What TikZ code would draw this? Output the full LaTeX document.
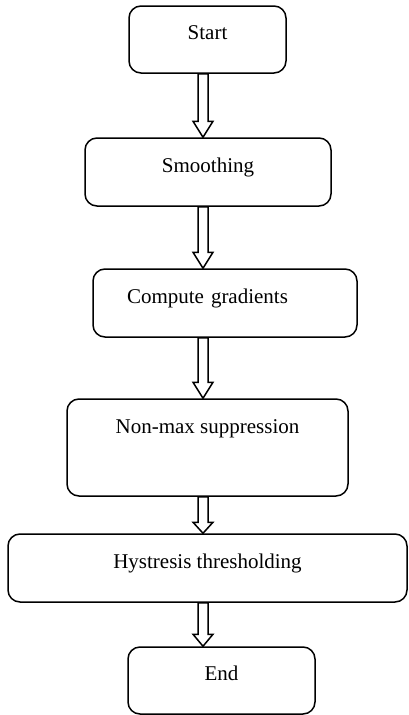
\documentclass[tikz,border=0pt]{standalone}
\usepackage{fontspec}
\setmainfont{Liberation Serif}
\usepackage{tikz}
\usetikzlibrary{ calc, positioning }
\tikzset{
x=1pt, y=-1pt, % picture units follow the reference pixels
stepbox/.style={draw, line width=1.5pt, rounded corners=12pt,
  font=\fontsize{21}{25}\selectfont, inner sep=2pt,
  text height=14pt, text depth=14pt}, % text sits near the box middle
hollow/.style={draw, fill=white, line width=1.5pt, line join=miter}, % block arrow
}
\begin{document}
\begin{tikzpicture}
  \useasboundingbox (0,0) rectangle (408,715);
  \coordinate (axis) at (203,0);%shaft line of all arrows

  \node[stepbox, minimum width=157pt, minimum height=67pt] (start) at (207.5,39.5) {Start};
  \node[stepbox, minimum width=246pt, minimum height=68pt] (smooth) at (208,172) {Smoothing};
  \node[stepbox, minimum width=264pt, minimum height=68pt, text width=196pt, align=left, inner xsep=34pt] (grad) at (225,303) {Compute gradients};
  \node[stepbox, minimum width=281pt, minimum height=97pt, text depth=43pt] (nms) at (207.5,447.5) {Non-max suppression};
  \node[stepbox, minimum width=399pt, minimum height=68pt] (hyst) at (207.5,568) {Hystresis thresholding};
  \node[stepbox, minimum width=187pt, minimum height=67pt] (finish) at (221.5,680.5) {End};

  \foreach \a/\b/\h in {start/smooth/16, smooth/grad/16, grad/nms/16, nms/hyst/11, hyst/finish/12}
    \draw[hollow] ($(\a.south -| axis)+(-5,0)$) -- ($(\b.north -| axis)+(-5,-\h)$)
      -- ++(-5,0) -- (\b.north -| axis) -- ($(\b.north -| axis)+(10,-\h)$)
      -- ++(-5,0) -- ($(\a.south -| axis)+(5,0)$) -- cycle;
\end{tikzpicture}
\end{document}
